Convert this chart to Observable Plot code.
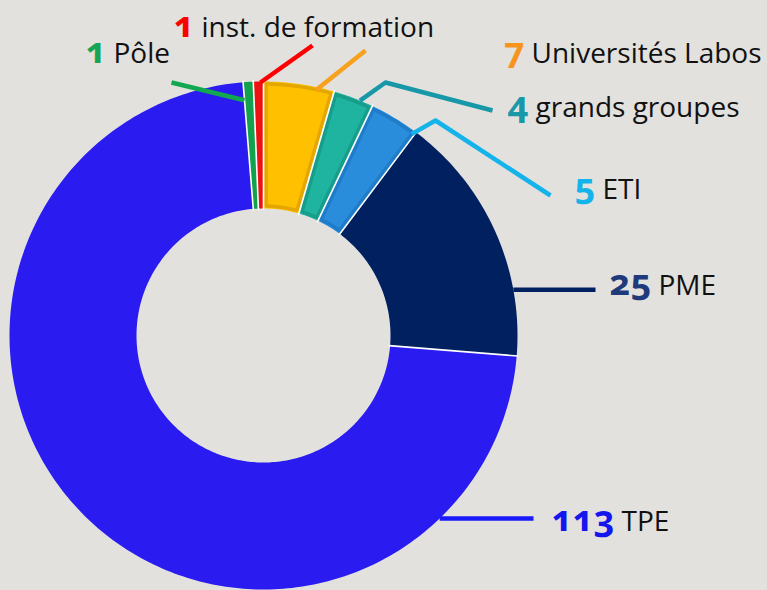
<!DOCTYPE html>
<html><head><meta charset="utf-8">
<script src="https://cdn.jsdelivr.net/npm/d3@7"></script>
<script src="https://cdn.jsdelivr.net/npm/@observablehq/plot@0.6"></script>
<style>
html,body{margin:0;padding:0;background:#e2e1de;}
#chart{width:767px;height:590px;overflow:hidden;}
</style></head>
<body><div id="chart"></div>
<script>
// ---- data ----
const categories = ["Pôle", "inst. de formation", "Universités Labos", "grands groupes", "ETI", "PME", "TPE"];
const counts = [1, 1, 7, 4, 5, 25, 113];
const numberLabels = ["1", "1", "7", "4", "5", "25", "113"];

// ---- styles ----
const sliceColors  = ["#12a24e", "#ee1111", "#ffc000", "#1fb4a0", "#2a8ddc", "#002060", "#2a1cf0"];
const borderColors = [null, null, "#e4a600", "#179e8b", "#1f7cc9", null, null];
const leaderColors = ["#12a84f", "#ff0000", "#f7a11c", "#1698a8", "#14b4ea", "#002060", "#1a1aff"];
const numberColors = ["#16a653", "#ff0000", "#f7941d", "#1898a8", "#14b4ea", "#1f3a7a", "#1515ee"];

// ---- layout (pixels) ----
const W = 767, H = 590, CX = 263, CY = 335, R1 = 254, R0 = 127;
// leader: start fraction along slice & start radius, then further points (px)
const leaderLayout = [
  {f: 0.0, r: 236, pts: [[171, 82]]},
  {f: 0.7, r: 253, pts: [[312, 45]]},
  {f: 0.75, r: 251, pts: [[365, 50]]},
  {f: 0.67, r: 254, pts: [[385, 82], [492, 110]]},
  {f: 0.95, r: 250, pts: [[435, 120], [550, 195]]},
  {f: 0.74, r: 254, pts: [[595, null]]},
  {f: 0.159, r: 254, pts: [[533, null]]}
];
// label anchor: x between number and text, baseline y (px)
const labelLayout = [[109, 62], [197, 36], [527, 62], [531, 116], [598, 198], [654, 294], [617, 530]];

// ---- geometry ----
const total = d3.sum(counts);
const offset = -(counts[0] + counts[1]) / total * 2 * Math.PI;
const arcs = d3.pie().sort(null).value(d => d).startAngle(offset).endAngle(offset + 2 * Math.PI)(counts);
const px = (x) => x - CX, py = (y) => CY - y;
const polar = (a, r) => [r * Math.sin(a), r * Math.cos(a)];

function slicePoly(name, a0, a1, r0, r1, inset) {
  const pts = [];
  const o0 = a0 + inset / r1, o1 = a1 - inset / r1;
  const i0 = a0 + inset / r0, i1 = a1 - inset / r0;
  const ro = r1 - inset, ri = r0 + inset;
  const n = Math.max(2, Math.ceil((o1 - o0) * 180 / Math.PI));
  for (let k = 0; k <= n; k++) { const [x, y] = polar(o0 + (o1 - o0) * k / n, ro); pts.push({name, x, y}); }
  const m = Math.max(2, Math.ceil((i1 - i0) * 180 / Math.PI));
  for (let k = 0; k <= m; k++) { const [x, y] = polar(i1 - (i1 - i0) * k / m, ri); pts.push({name, x, y}); }
  pts.push({...pts[0]});
  return pts;
}

const fillPts = arcs.flatMap((a, i) => slicePoly(categories[i], a.startAngle, a.endAngle, R0, R1, 0));

const marks = [];
marks.push(Plot.line(fillPts, {x: "x", y: "y", z: "name", fill: "name", stroke: "none"}));

// darker inner borders
arcs.forEach((a, i) => {
  if (!borderColors[i]) return;
  marks.push(Plot.line(slicePoly(categories[i], a.startAngle, a.endAngle, R0, R1, 2.5),
    {x: "x", y: "y", stroke: borderColors[i], strokeWidth: 3.5, strokeLinejoin: "miter"}));
});

// white separators
const sepPts = arcs.flatMap((a, i) => {
  const [x0, y0] = polar(a.startAngle, R0 - 1), [x1, y1] = polar(a.startAngle, R1 + 1);
  return [{name: categories[i], x: x0, y: y0}, {name: categories[i], x: x1, y: y1}];
});
marks.push(Plot.line(sepPts, {x: "x", y: "y", z: "name", stroke: "#ffffff", strokeWidth: 1.6}));

// leader lines
arcs.forEach((a, i) => {
  const L = leaderLayout[i];
  const ang = a.startAngle + (a.endAngle - a.startAngle) * L.f;
  const [sx, sy] = polar(ang, L.r);
  const pts = [{x: sx, y: sy}];
  L.pts.forEach(([X, Y]) => pts.push({x: px(X), y: Y == null ? sy : py(Y)}));
  marks.push(Plot.line(pts, {x: "x", y: "y", stroke: leaderColors[i], strokeWidth: 4.5, strokeLinecap: "butt"}));
});

// labels
categories.forEach((c, i) => {
  const [lx, ly] = labelLayout[i];
  const d = [{x: px(lx), y: py(ly), num: numberLabels[i], name: c}];
  marks.push(Plot.text(d, {x: "x", y: "y", text: "num", dx: -3, textAnchor: "end", lineAnchor: "bottom",
    fill: numberColors[i], fontSize: 36, fontWeight: "bold", fontFamily: "Noto Sans", fontVariant: "oldstyle-nums"}));
  marks.push(Plot.text(d, {x: "x", y: "y", text: "name", dx: 4, textAnchor: "start", lineAnchor: "bottom",
    fill: "#111111", fontSize: 28, fontFamily: "Open Sans"}));
});

const chart = Plot.plot({
  width: W, height: H,
  margin: 0,
  x: {domain: [-CX, W - CX], range: [0, W], axis: null},
  y: {domain: [-(H - CY), CY], range: [H, 0], axis: null},
  color: {domain: categories, range: sliceColors},
  style: {background: "#e2e1de", overflow: "hidden"},
  marks
});
document.getElementById("chart").appendChild(chart);
</script>
</body></html>
